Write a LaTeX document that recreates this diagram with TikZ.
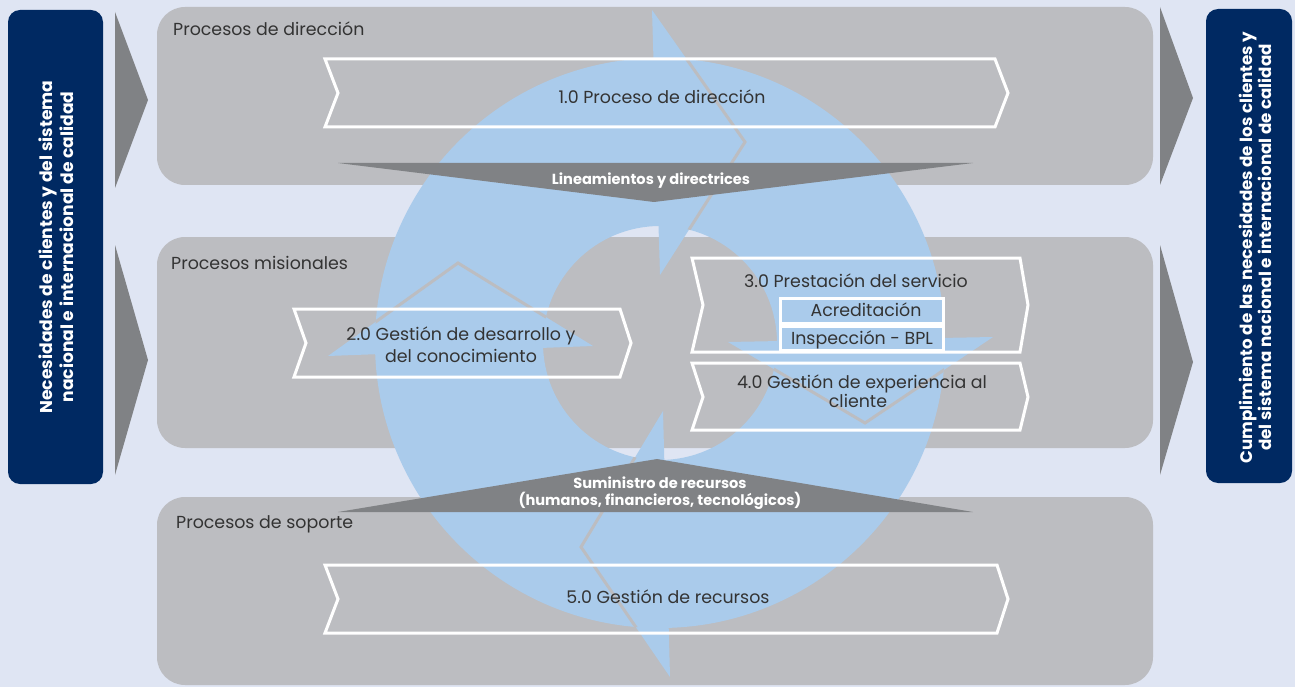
\documentclass[tikz,border=0pt]{standalone}
\usepackage{fontspec}
\setmainfont{Poppins}
\definecolor{bgc}{RGB}{223,229,243}
\definecolor{boxg}{RGB}{188,189,193}
\definecolor{darkg}{RGB}{128,130,133}
\definecolor{ringb}{RGB}{170,203,235}
\definecolor{navyc}{RGB}{0,41,98}
\definecolor{txtc}{RGB}{51,51,51}
\begin{document}
\begin{tikzpicture}[x=1pt,y=-1pt,
  graybox/.style={fill=boxg,rounded corners=28pt},
  navybox/.style={fill=navyc,rounded corners=12pt},
  sidetri/.style={fill=darkg},
  bandtri/.style={fill=darkg},
  chev/.style={draw=white,line width=3pt,line join=miter},
  subbox/.style={draw=white,fill=ringb,line width=3pt},
  outl/.style={draw=boxg,line width=3pt,line join=miter},
  grouptxt/.style={text=txtc,font=\fontsize{17.4}{20}\selectfont,inner sep=0pt,anchor=base west},
  chevtxt/.style={text=txtc,font=\fontsize{17.4}{20}\selectfont,inner sep=0pt,anchor=base},
  bandtxt/.style={text=white,font=\bfseries\fontsize{14.6}{17}\selectfont,inner sep=0pt,anchor=base},
  navytxt/.style={text=white,font=\bfseries\fontsize{17.1}{20}\selectfont,inner sep=0pt,anchor=base,rotate=90}]
\fill[bgc] (0,0) rectangle (1295,687);
\useasboundingbox (0,0) rectangle (1295,687);
% side boxes
\path[navybox] (8,10) rectangle (103,484);
\path[navybox] (1206,9) rectangle (1292,483);
% side triangles
\path[sidetri] (115,12) -- (148,100) -- (115,188) -- cycle;
\path[sidetri] (115,245) -- (148,360) -- (115,475) -- cycle;
\path[sidetri] (1160,7) -- (1193,98) -- (1160,185) -- cycle;
\path[sidetri] (1160,245) -- (1193,362) -- (1160,475) -- cycle;
% group boxes
\path[graybox] (157,7) rectangle (1153,185);
\path[graybox] (157,237) rectangle (1153,448);
\path[graybox] (157,497) rectangle (1153,685);
% ring
\fill[ringb] (945,343) arc[start angle=0,end angle=360,radius=285pt] -- cycle
  (777,343) arc[start angle=360,end angle=0,radius=117pt] -- cycle;
% arrow heads
\fill[ringb] (652,10) -- (745,142) -- (660,275) -- cycle;
\fill[ringb] (993,337) -- (865,423) -- (728,342) -- cycle;
\fill[ringb] (670,677) -- (581,547) -- (663,411) -- cycle;
\fill[ringb] (328,356) -- (458,263) -- (593,346) -- cycle;
\begin{scope}
\clip (945,343) arc[start angle=0,end angle=360,radius=285pt] -- cycle
  (777,343) arc[start angle=360,end angle=0,radius=117pt] -- cycle;
\path[outl] (652,10) -- (745,142) -- (660,275);
\path[outl] (993,337) -- (865,423) -- (728,342);
\path[outl] (670,677) -- (581,547) -- (663,411);
\path[outl] (328,356) -- (458,263) -- (593,346);
\end{scope}
% band triangles
\path[bandtri] (338,163) -- (973,163) -- (654,202) -- cycle;
\path[bandtri] (338,512) -- (973,512) -- (657,459) -- cycle;
% chevrons
\path[chev] (325,59) -- (995,59) -- (1008,93) -- (995,127) -- (325,127) -- (338,93) -- cycle;
\path[chev] (294,309) -- (620,309) -- (631,343) -- (620,377) -- (294,377) -- (306,343) -- cycle;
\path[chev] (692,258) -- (1020,258) -- (1028,305) -- (1020,352) -- (692,352) -- (703,305) -- cycle;
\path[chev] (692,363) -- (1020,363) -- (1028,397) -- (1020,430) -- (692,430) -- (703,397) -- cycle;
\path[chev] (325,565) -- (997,565) -- (1008,599) -- (997,633) -- (325,633) -- (338,599) -- cycle;
\path[subbox] (780,298) rectangle (943,323);
\path[subbox] (780,326) rectangle (943,350);
% texts
\node[grouptxt] (g1) at (173,36) {Procesos de dirección};
\node[grouptxt] (g2) at (171,269) {Procesos misionales};
\node[grouptxt] (g3) at (176,528) {Procesos de soporte};
\node[chevtxt] (c1) at (662,104) {1.0 Proceso de dirección};
\node[chevtxt] (c2a) at (461,340) {2.0 Gestión de desarrollo y};
\node[chevtxt] (c2b) at (461,362) {del conocimiento};
\node[chevtxt] (c3) at (856,287) {3.0 Prestación del servicio};
\node[chevtxt] (c3a) at (866,316) {Acreditación};
\node[chevtxt] (c3b) at (862,344) {Inspección - BPL};
\node[chevtxt] (c4a) at (862,388) {4.0 Gestión de experiencia al};
\node[chevtxt] (c4b) at (858,407) {cliente};
\node[chevtxt] (c5) at (668,603) {5.0 Gestión de recursos};
\node[bandtxt] (b1) at (651,185) {Lineamientos y directrices};
\node[bandtxt] (b2a) at (660,488) {Suministro de recursos};
\node[bandtxt] (b2b) at (660,505) {(humanos, financieros, tecnológicos)};
\node[navytxt] (nl1) at (52,247) {Necesidades de clientes y del sistema};
\node[navytxt] (nl2) at (73,247) {nacional e internacional de calidad};
\node[navytxt,font=\bfseries\fontsize{16.7}{20}\selectfont] (nr1) at (1252,247.5) {Cumplimiento de las necesidades de los clientes y};
\node[navytxt,font=\bfseries\fontsize{16.7}{20}\selectfont] (nr2) at (1271,247.5) {del sistema nacional e internacional de calidad};
\end{tikzpicture}
\end{document}
